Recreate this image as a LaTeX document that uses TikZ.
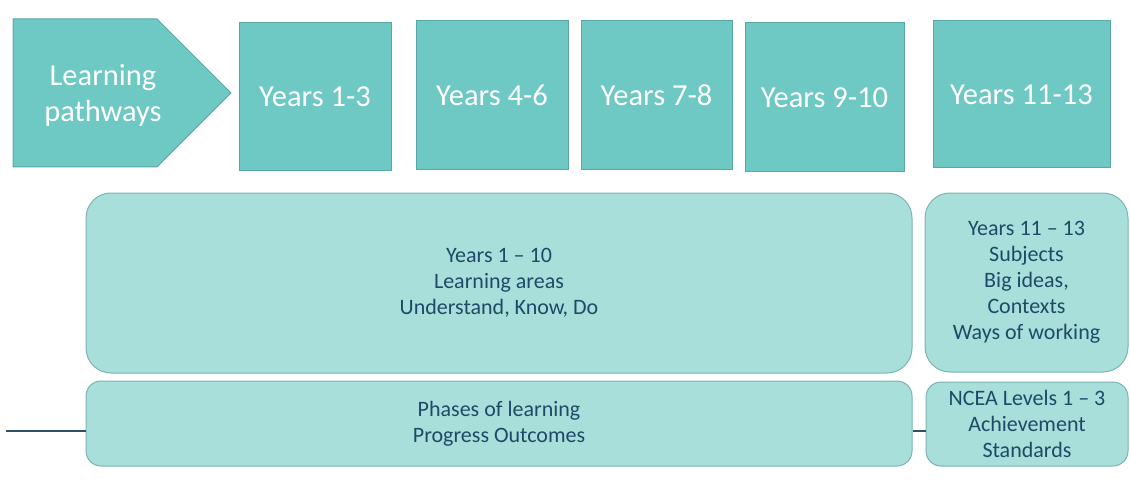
\documentclass[tikz,border=0pt]{standalone}
\usepackage{fontspec}
\setmainfont{Carlito}
\usepackage{tikz}
\usepackage{xcolor}
\usetikzlibrary{positioning,calc}
\definecolor{tealfill}  {HTML}{6EC8C4}
\definecolor{tealedge}  {HTML}{5AA8A4}
\definecolor{palefill}  {HTML}{A8DFDB}
\definecolor{paleedge}  {HTML}{7BB4B1}
\definecolor{navy}      {HTML}{1E4A66}
\definecolor{linkline}  {HTML}{2F5066}
\tikzset{
  yearbox/.style  ={draw=tealedge, fill=tealfill, line width=1pt,
                    align=center, text=white, inner sep=0pt,
                    font=\fontsize{30.5}{36}\selectfont},
  yearlabel/.style={align=center, text=white, inner sep=0pt,
                    font=\fontsize{30.5}{36}\selectfont},
  areabox/.style  ={draw=paleedge, fill=palefill, line width=1pt,
                    align=center, text=navy, inner sep=0pt,
                    font=\fontsize{22}{26}\selectfont},
  link/.style     ={draw=linkline, line width=1.4pt},
}

\begin{document}
\begin{tikzpicture}[x=1pt,y=-1pt]
  \useasboundingbox (0,0) rectangle (1130,500);

  % pathway arrow and year bands
  \draw[yearbox] (13,19) -- (157,19) -- (231,93) -- (157,167) -- (13,167) -- cycle;
  \node[yearlabel] (path) at (103,95) {Learning\\pathways};
  \node[yearbox,minimum width=152pt,minimum height=148pt] (y1) at (315,97)    {Years 1-3};
  \node[yearbox,minimum width=152pt,minimum height=149pt] (y4) at (492,95.5)  {Years 4-6};
  \node[yearbox,minimum width=151pt,minimum height=149pt] (y7) at (656.5,95.5) {Years 7-8};
  \node[yearbox,minimum width=159pt,minimum height=149pt] (y9) at (824.5,97.5) {Years 9-10};
  \node[yearbox,minimum width=177pt,minimum height=147pt] (y11) at (1021.5,94.5) {Years 11-13};

  % curriculum blocks
  \node[areabox,rounded corners=25pt,minimum width=826pt,minimum height=180pt]
    (areas) at (499,283) {Years 1 – 10\\Learning areas\\Understand, Know, Do};
  \node[areabox,rounded corners=25pt,minimum width=203pt,minimum height=179pt]
    (subj) at (1026.5,282.5) {Years 11 – 13\\Subjects\\Big ideas,\\Contexts\\Ways of working};
  \node[areabox,rounded corners=15pt,minimum width=826pt,minimum height=85pt]
    (phases) at (499,423.5) {Phases of learning\\Progress Outcomes};
  \node[areabox,rounded corners=15pt,minimum width=202pt,minimum height=84pt]
    (ncea) at (1027,424) {NCEA Levels 1 – 3\\Achievement\\Standards};

  \coordinate (lstart) at (6,431);
  \draw[link] (lstart) -- (lstart -| phases.west);
  \draw[link] (phases.east |- lstart) -- (ncea.west |- lstart);
\end{tikzpicture}
\end{document}
